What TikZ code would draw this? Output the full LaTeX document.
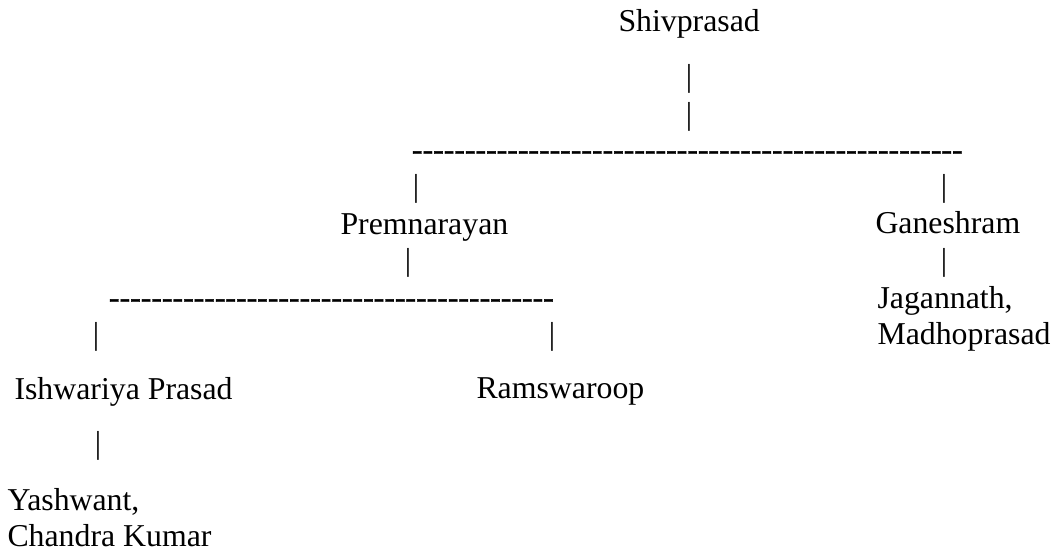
\documentclass[tikz,border=0pt]{standalone}
\usepackage{fontspec}
\setmainfont{Liberation Serif}[Ligatures=TeXOff]
\newfontfamily\dashfont{Liberation Serif}[Ligatures=TeXOff,FakeBold=1.2]
\begin{document}
\begin{tikzpicture}[x=1pt,y=-1pt,
  every node/.style={inner sep=0pt,outer sep=0pt,font=\fontsize{31.8}{35.5}\selectfont},
  person/.style={anchor=base west,align=left},
  vbar/.style={anchor=center},
  dashrow/.style={anchor=base west,font=\fontsize{31.8}{35.5}\dashfont}]
\useasboundingbox (0,0) rectangle (1054,553);
% names
\node[person] (shiv) at (618.5,32) {Shivprasad};
\node[person] (prem) at (340.5,234.5) {Premnarayan};
\node[person] (gan) at (875.5,233.5) {Ganeshram};
\node[person] (jag) at (877.5,344) {Jagannath,\\Madhoprasad};
\node[person] (ish) at (14.5,399) {Ishwariya Prasad};
\node[person] (ram) at (476.5,398.5) {Ramswaroop};
\node[person] (yash) at (7.5,546) {Yashwant,\\Chandra Kumar};
% vertical bars
\node[vbar] (b1) at (689,78.5) {|};
\node[vbar] (b2) at (689,116.5) {|};
\node[vbar] (b3) at (416,188.5) {|};
\node[vbar] (b4) at (944,188.5) {|};
\node[vbar] (b5) at (408,263) {|};
\node[vbar] (b6) at (944,263) {|};
\node[vbar] (b7) at (96,337) {|};
\node[vbar] (b8) at (552,337) {|};
\node[vbar] (b9) at (98,446) {|};
% dash rows
\node[dashrow] (d1) at (412,160) {----------------------------------------------------};
\node[dashrow] (d2) at (109,308) {------------------------------------------};
\end{tikzpicture}
\end{document}
